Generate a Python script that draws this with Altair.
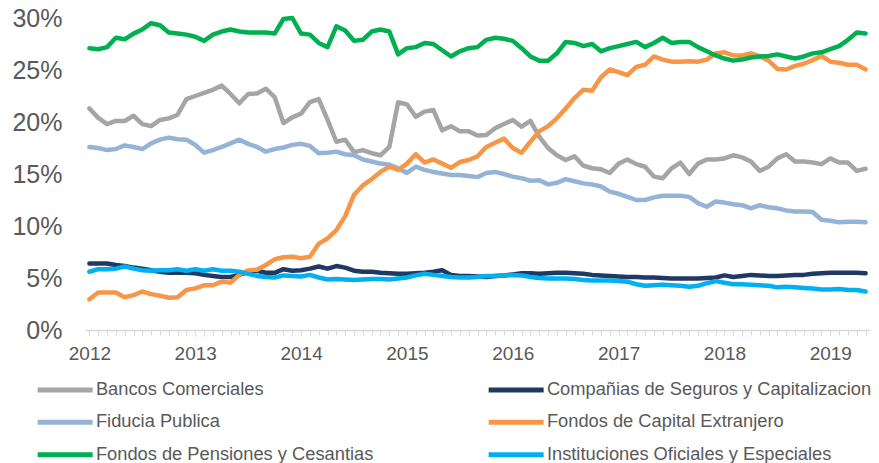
import altair as alt
import pandas as pd

series_names = [
    "Bancos Comerciales",
    "Compañias de Seguros y Capitalizacion",
    "Fiducia Publica",
    "Fondos de Capital Extranjero",
    "Fondos de Pensiones y Cesantias",
    "Instituciones Oficiales y Especiales",
]
colors = ["#A5A5A5", "#1F3864", "#95B3D7", "#F79646", "#00B050", "#00B0F0"]

# monthly shares (%), Jan 2012 .. May 2019
bancos = [21.3, 20.4, 19.8, 20.1, 20.1, 20.6, 19.8, 19.6, 20.2, 20.35,
          20.7, 22.2, 22.5, 22.8, 23.1, 23.5, 22.7, 21.8, 22.7, 22.75,
          23.2, 22.4, 19.9, 20.45, 20.8, 21.9, 22.2, 20.2, 18.1, 18.3,
          17.1, 17.3, 17.0, 16.8, 17.6, 21.9, 21.7, 20.5, 21.0, 21.15,
          19.2, 19.6, 19.1, 19.1, 18.7, 18.75, 19.4, 19.8, 20.2, 19.55,
          20.1, 18.6, 17.5, 16.8, 16.35, 16.7, 15.8, 15.55, 15.45, 15.1,
          16.0, 16.4, 15.95, 15.7, 14.75, 14.6, 15.55, 16.1, 15.0, 16.0,
          16.4, 16.4, 16.5, 16.8, 16.6, 16.2, 15.3, 15.7, 16.5, 16.9,
          16.2, 16.2, 16.1, 15.95, 16.5, 16.1, 16.1, 15.3, 15.5]
companias = [6.4, 6.4, 6.4, 6.25, 6.15, 6.0, 5.9, 5.75, 5.6, 5.5,
             5.5, 5.5, 5.45, 5.3, 5.2, 5.1, 5.1, 5.3, 5.6, 5.7,
             5.5, 5.5, 5.85, 5.7, 5.75, 5.9, 6.1, 5.9, 6.15, 6.0,
             5.7, 5.6, 5.6, 5.5, 5.45, 5.4, 5.4, 5.45, 5.5, 5.6,
             5.75, 5.3, 5.2, 5.2, 5.15, 5.1, 5.2, 5.25, 5.35, 5.45,
             5.45, 5.4, 5.45, 5.5, 5.5, 5.45, 5.4, 5.3, 5.25, 5.2,
             5.15, 5.1, 5.1, 5.05, 5.05, 5.0, 4.95, 4.95, 4.95, 4.95,
             5.0, 5.05, 5.25, 5.1, 5.2, 5.3, 5.25, 5.2, 5.2, 5.25,
             5.3, 5.3, 5.4, 5.45, 5.5, 5.5, 5.5, 5.5, 5.45]
fiducia = [17.6, 17.5, 17.3, 17.4, 17.75, 17.6, 17.4, 17.95, 18.3, 18.5,
           18.35, 18.3, 17.8, 17.05, 17.3, 17.6, 17.95, 18.3, 17.9, 17.6,
           17.15, 17.4, 17.55, 17.8, 17.9, 17.7, 17.0, 17.05, 17.15, 16.9,
           16.8, 16.4, 16.2, 16.0, 15.9, 15.55, 15.1, 15.7, 15.4, 15.2,
           15.05, 14.9, 14.9, 14.8, 14.7, 15.1, 15.2, 15.0, 14.75, 14.6,
           14.35, 14.4, 14.0, 14.15, 14.5, 14.3, 14.1, 14.0, 13.8, 13.3,
           13.1, 12.8, 12.5, 12.5, 12.75, 12.9, 12.9, 12.9, 12.8, 12.2,
           11.85, 12.35, 12.25, 12.1, 12.0, 11.7, 12.0, 11.8, 11.7, 11.5,
           11.4, 11.4, 11.35, 10.6, 10.5, 10.35, 10.4, 10.4, 10.35]
capital_ext = [2.95, 3.6, 3.6, 3.6, 3.15, 3.35, 3.7, 3.45, 3.3, 3.1,
               3.15, 3.85, 4.0, 4.3, 4.3, 4.65, 4.55, 5.3, 5.75, 5.8,
               6.25, 6.8, 7.0, 7.05, 6.9, 7.05, 8.3, 8.8, 9.6, 10.95,
               13.0, 13.9, 14.5, 15.2, 15.7, 15.4, 16.0, 16.9, 16.1, 16.4,
               16.0, 15.6, 16.15, 16.35, 16.7, 17.6, 18.0, 18.4, 17.5, 17.05,
               18.1, 19.1, 19.6, 20.35, 21.3, 22.3, 23.1, 23.0, 24.3, 25.05,
               24.8, 24.5, 25.3, 25.5, 26.3, 26.0, 25.8, 25.8, 25.85, 25.8,
               26.0, 26.6, 26.7, 26.4, 26.4, 26.6, 26.3, 25.9, 25.1, 25.05,
               25.4, 25.6, 25.95, 26.35, 25.8, 25.7, 25.5, 25.5, 25.05]
pensiones = [27.1, 27.0, 27.2, 28.1, 27.95, 28.5, 28.9, 29.5, 29.3, 28.6,
             28.5, 28.4, 28.2, 27.8, 28.4, 28.7, 28.9, 28.7, 28.6, 28.6,
             28.6, 28.5, 29.9, 30.0, 28.5, 28.4, 27.6, 27.2, 29.2, 28.8,
             27.8, 27.9, 28.7, 28.9, 28.7, 26.5, 27.1, 27.2, 27.6, 27.5,
             26.9, 26.3, 26.8, 27.1, 27.2, 27.9, 28.1, 28.0, 27.8, 27.1,
             26.3, 25.9, 25.9, 26.6, 27.7, 27.6, 27.3, 27.5, 26.8, 27.1,
             27.3, 27.5, 27.7, 27.2, 27.6, 28.1, 27.6, 27.7, 27.7, 27.2,
             26.8, 26.4, 26.1, 25.9, 26.0, 26.2, 26.3, 26.35, 26.5, 26.3,
             26.1, 26.3, 26.6, 26.7, 27.0, 27.3, 27.9, 28.6, 28.5]
instituciones = [5.6, 5.85, 5.85, 5.9, 6.1, 5.9, 5.75, 5.7, 5.75, 5.75,
                 5.85, 5.7, 5.85, 5.7, 5.85, 5.7, 5.7, 5.6, 5.4, 5.2,
                 5.1, 5.05, 5.25, 5.2, 5.15, 5.3, 5.05, 4.85, 4.9, 4.85,
                 4.8, 4.85, 4.9, 4.9, 4.85, 4.95, 5.05, 5.25, 5.4, 5.3,
                 5.2, 5.1, 5.05, 5.05, 5.1, 5.2, 5.2, 5.25, 5.3, 5.25,
                 5.1, 5.0, 4.95, 4.95, 4.95, 4.9, 4.8, 4.75, 4.75, 4.75,
                 4.7, 4.65, 4.4, 4.25, 4.3, 4.35, 4.3, 4.25, 4.15, 4.25,
                 4.5, 4.7, 4.55, 4.4, 4.4, 4.35, 4.3, 4.25, 4.1, 4.15,
                 4.1, 4.05, 4.0, 3.9, 3.9, 3.95, 3.85, 3.85, 3.7]

y_ticks = [0, 0.05, 0.10, 0.15, 0.20, 0.25, 0.30]
start_year = 2012

all_vals = [bancos, companias, fiducia, capital_ext, pensiones, instituciones]
n = len(bancos)
months = [start_year + k / 12 for k in range(n)]

rows = []
for name, vals in zip(series_names, all_vals):
    for m, v in zip(months, vals):
        rows.append({"serie": name, "fecha": m, "valor": v / 100})
df = pd.DataFrame(rows)

FONT = "Liberation Sans"
GREY_TXT = "#595959"

chart = alt.Chart(df).mark_line(
    strokeWidth=4.5, strokeJoin="round", strokeCap="round"
).encode(
    x=alt.X(
        "fecha:Q",
        scale=alt.Scale(domain=[months[0] - 0.5 / 12, months[-1] + 0.5 / 12],
                        nice=False, zero=False),
        axis=alt.Axis(
            title=None,
            values=months,
            labelExpr="abs(datum.value - round(datum.value)) < 0.001 ? format(round(datum.value), 'd') : ''",
            labelOverlap=False,
            labelFlush=False,
            labelBound=False,
            labelFont=FONT,
            labelFontSize=19,
            labelColor=GREY_TXT,
            labelPadding=9,
            domainColor="#D9D9D9",
            domainWidth=1.5,
            tickColor="#D9D9D9",
            tickSize=5,
            tickWidth=1,
            grid=False,
        ),
    ),
    y=alt.Y(
        "valor:Q",
        scale=alt.Scale(domain=[0, 0.30], nice=False),
        axis=alt.Axis(
            title=None,
            values=y_ticks,
            format=".0%",
            domain=False,
            ticks=False,
            tickSize=0,
            grid=False,
            labelFont=FONT,
            labelFontSize=25,
            labelColor=GREY_TXT,
            labelPadding=23,
        ),
    ),
    color=alt.Color(
        "serie:N",
        scale=alt.Scale(domain=series_names, range=colors),
        legend=alt.Legend(
            title=None,
            orient="none",
            direction="horizontal",
            legendX=-29,
            legendY=362.5,
            columns=2,
            symbolType="M-5,0H5",
            symbolSize=121,
            symbolStrokeWidth=5,
            labelFont=FONT,
            labelFontSize=18.3,
            labelColor=GREY_TXT,
            labelOffset=21.6,
            labelLimit=600,
            rowPadding=11.5,
            columnPadding=104,
            padding=0,
        ),
    ),
).properties(
    width=785,
    height=312,
    autosize=alt.AutoSizeParams(type="none"),
    padding={"left": 85, "top": 18, "right": 9, "bottom": 133},
    background="white",
).configure_view(stroke=None)

chart.save("out.html", embed_options={"renderer": "svg", "actions": False})
